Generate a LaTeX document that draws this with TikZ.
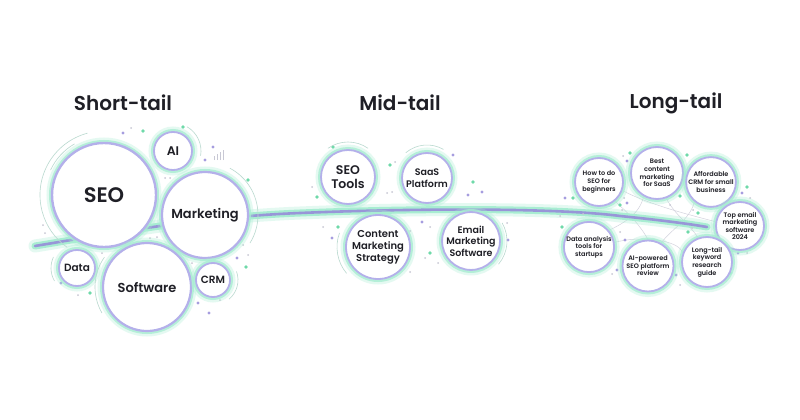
\documentclass[tikz,border=0pt]{standalone}
\usepackage{fontspec}
\setmainfont{Poppins}
\IfFontExistsTF{Poppins Medium}{\newfontfamily\pmed{Poppins Medium}}{\newfontfamily\pmed{Poppins}}
\IfFontExistsTF{Poppins SemiBold}{\newfontfamily\psemi{Poppins SemiBold}}{\newfontfamily\psemi{Poppins}[FakeBold=1]}
\definecolor{ink}{HTML}{1F1F26}
\definecolor{mint}{HTML}{A8EDD2}
\definecolor{mintd}{HTML}{6FD9A9}
\definecolor{lav}{HTML}{B4B0EA}
\definecolor{lavd}{HTML}{A69DDF}
\definecolor{lavline}{HTML}{9896D8}
\definecolor{lavfill}{HTML}{E8E5FA}
\definecolor{sgrey}{HTML}{C8C8D4}
\definecolor{arcc}{HTML}{B9D9CF}
\pgfdeclareradialshading{bubshade}{\pgfpoint{0bp}{0bp}}{color(0bp)=(white); color(30bp)=(white); color(50bp)=(lavfill); color(100bp)=(lavfill)}
\pgfdeclarelayer{bgl}
\pgfdeclarelayer{linkl}
\pgfsetlayers{bgl,linkl,main}
\tikzset{
  bub/.style={circle, inner sep=0pt, align=center, text=ink,
    preaction={draw=mint, line width=11pt, opacity=.3},
    preaction={draw=mint, line width=6pt, opacity=.8},
    shading=bubshade, draw=lav, line width=1.8pt},
  big/.style={font=\psemi\fontsize{13}{15}\selectfont},
  midf/.style={font=\psemi\fontsize{9.5}{11.5}\selectfont},
  lonf/.style={font=\psemi\fontsize{6.5}{7.6}\selectfont},
  ttl/.style={font=\psemi\fontsize{20}{24}\selectfont, text=ink},
  arcst/.style={draw=arcc, line width=0.6pt},
  link/.style={draw=sgrey!80, line width=0.5pt},
  gd/.style={fill=mintd},
  pd/.style={fill=lavd},
  sd/.style={fill=sgrey},
}
\begin{document}
\begin{tikzpicture}[x=1pt,y=-1pt]
\useasboundingbox (0,0) rectangle (800,420);
\begin{pgfonlayer}{bgl}
\fill[white] (0,0) rectangle (800,420);
\end{pgfonlayer}

% titles
\node[ttl] (t1) at (123,103) {Short-tail};
\node[ttl] (t2) at (400,103) {Mid-tail};
\node[ttl] (t3) at (676,103) {Long-tail};

% the tail curve
\coordinate (cs) at (35,246);
\coordinate (cm) at (300,213);
\coordinate (ce) at (707,227);
\draw[mint, line width=13pt, opacity=.3, line cap=round]
  (cs) .. controls (120,232) and (200,217) .. (cm) .. controls (420,208) and (560,208) .. (620,216) .. controls (660,220) and (690,224) .. (ce);
\draw[mint, line width=7pt, line cap=round]
  (cs) .. controls (120,232) and (200,217) .. (cm) .. controls (420,208) and (560,208) .. (620,216) .. controls (660,220) and (690,224) .. (ce);
\draw[lavline, line width=2.6pt, line cap=round]
  (cs) .. controls (120,232) and (200,217) .. (cm) .. controls (420,208) and (560,208) .. (620,216) .. controls (660,220) and (690,224) .. (ce);

% dots
\foreach \x/\y in {143/131,183/127,246/267,90/293,333/147,390/165,473/182,317/197,338/227,430/253,630/153,687/155,747/187,620/205,573/198,680/196,698/213,688/232,737/240,650/290,730/273,562/227,248/180}
  \fill[gd] (\x,\y) circle[radius=1.8pt];
\foreach \x/\y in {123/133,213/147,205/160,237/258,61/283,198/303,209/313,453/155,482/192,468/195,332/238,422/222,508/240,627/161,742/193,627/203,565/198,625/240,738/253,617/270,676/275}
  \fill[pd] (\x,\y) circle[radius=1.7pt];
\foreach \x/\y in {131/128,165/178,170/178,248/255,243/245,45/233,43/225,102/253,78/295,220/300,187/253,192/263,157/237,150/238,395/162,392/192,387/193,312/187,323/227,430/227,410/231,438/263,425/258,410/272,507/223,623/156,673/155,750/198,622/210,624/198,693/210,692/228,620/232,747/253,612/274,680/285,640/288,720/273,570/263,560/216,583/214,670/205,705/248}
  \fill[sd] (\x,\y) circle[radius=1pt];
% small bars near AI
\foreach \i/\h in {0/4,1/6,2/8,3/10}
  \draw[sgrey, line width=0.8pt] (214+3*\i,160) -- ++(0,-\h);

% bubbles: short-tail
\node[bub, minimum size=104pt, font=\psemi\fontsize{21}{24}\selectfont, line width=2.4pt] (seo) at (104,195) {SEO};
\node[bub, minimum size=38pt, font=\psemi\fontsize{12.5}{14}\selectfont] (ai) at (173,151) {AI};
\node[bub, big, minimum size=86pt, line width=2.2pt] (mkt) at (205,215) {Marketing};
\node[bub, minimum size=36pt, font=\psemi\fontsize{10.5}{12}\selectfont] (data) at (77,268) {Data};
\node[bub, big, minimum size=88pt, line width=2.2pt] (soft) at (147,287) {Software};
\node[bub, minimum size=34pt, font=\psemi\fontsize{10.5}{12}\selectfont] (crm) at (213,280) {CRM};

% arcs around short-tail bubbles
\draw[arcst] (seo.center) ++(255:64) arc (255:125:64);
\draw[arcst] (seo.center) ++(240:59) arc (240:205:59);
\draw[arcst] (mkt.center) ++(-62:53) arc (-62:32:53);
\draw[arcst] (ai.center) ++(-60:28) arc (-60:10:28);
\draw[arcst] (data.center) ++(205:26) arc (205:150:26);
\draw[arcst] (soft.center) ++(150:52) arc (150:215:52);
\draw[arcst] (crm.center) ++(-20:25) arc (-20:50:25);

% bubbles: mid-tail
\node[bub, minimum size=54pt, font=\psemi\fontsize{12.5}{14.5}\selectfont] (seotools) at (348,177) {SEO\\Tools};
\node[bub, midf, minimum size=50pt] (saas) at (427,178) {SaaS\\Platform};
\node[bub, minimum size=64pt, font=\psemi\fontsize{10}{12}\selectfont] (content) at (378,247) {Content\\Marketing\\Strategy};
\node[bub, midf, minimum size=57pt] (email) at (471,241) {Email\\Marketing\\Software};
\draw[arcst] (seotools.center) ++(235:35) arc (235:305:35);
\draw[arcst] (saas.center) ++(230:33) arc (230:300:33);
\draw[arcst] (email.center) ++(-30:36) arc (-30:40:36);
\draw[arcst] (content.center) ++(140:41) arc (140:200:41);

% bubbles: long-tail
\node[bub, lonf, minimum size=48pt] (howto) at (599,182) {How to do\\SEO for\\beginners};
\node[bub, lonf, minimum size=52pt] (best) at (657,173) {Best\\content\\marketing\\for SaaS};
\node[bub, lonf, minimum size=49pt] (afford) at (711,182) {Affordable\\CRM for small\\business};
\node[bub, lonf, minimum size=48pt] (topemail) at (740,226) {Top email\\marketing\\software\\2024};
\node[bub, lonf, minimum size=49pt] (dataan) at (589,247) {Data analysis\\tools for\\startups};
\node[bub, lonf, minimum size=51pt] (aipow) at (648,266) {AI-powered\\SEO platform\\review};
\node[bub, lonf, minimum size=50pt] (longt) at (707,262) {Long-tail\\keyword\\research\\guide};

% faint links between long-tail bubbles, behind everything
\begin{pgfonlayer}{linkl}
\draw[link] (howto.-50) .. controls (630,215) and (640,225) .. (aipow.north);
\draw[link] (best.-120) .. controls (640,215) and (620,225) .. (dataan.40);
\draw[link] (best.-70) .. controls (675,215) and (690,225) .. (longt.110);
\draw[link] (afford.-130) .. controls (690,220) and (670,230) .. (aipow.60);
\draw[link] (howto.-20) .. controls (650,205) and (690,215) .. (topemail.170);
\draw[link] (dataan.10) .. controls (640,235) and (680,240) .. (longt.160);
\end{pgfonlayer}
\end{tikzpicture}
\end{document}
